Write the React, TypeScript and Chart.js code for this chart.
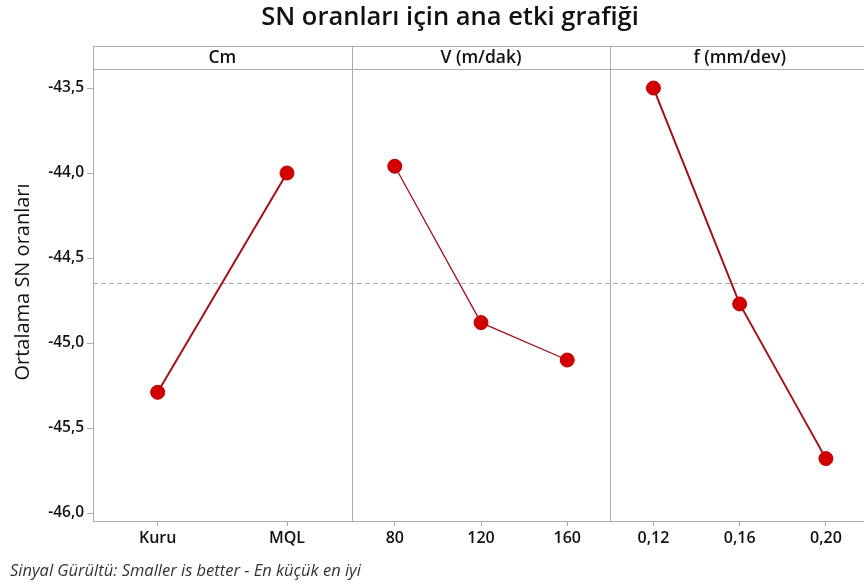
import React, { useEffect, useRef } from "react";
import { Chart, registerables } from "chart.js";

Chart.register(...registerables);

// ---- data ----
const chartTitle = "SN oranları için ana etki grafiği";
const yAxisTitle = "Ortalama SN oranları";
const footnote = "Sinyal Gürültü: Smaller is better - En küçük en iyi";

const factorNames = ["Cm", "V (m/dak)", "f (mm/dev)"];
const cmLevels = ["Kuru", "MQL"];
const cmMeans = [-45.29, -44.0];
const vLevels = ["80", "120", "160"];
const vMeans = [-43.96, -44.88, -45.1];
const fLevels = ["0,12", "0,16", "0,20"];
const fMeans = [-43.5, -44.77, -45.68];
const yTickValues = [-46.0, -45.5, -45.0, -44.5, -44.0, -43.5];

const factorLevels = [cmLevels, vLevels, fLevels];
const factorMeans = [cmMeans, vMeans, fMeans];

const FONT = "'Open Sans', 'Noto Sans', sans-serif";
const LINE = "#a3101c";
const DOT = "#d20000";
const DOT_BORDER = "#b80000";
const FRAME = "#ababab";

function pos(panel: number, i: number, n: number) {
  return panel + (2 * i + 1) / (2 * n);
}

const grandMean = cmMeans.reduce((a, b) => a + b, 0) / cmMeans.length;

export default function App() {
  const ref = useRef<HTMLCanvasElement | null>(null);

  useEffect(() => {
    if (!ref.current) return;
    const xTickPositions: number[] = [];
    const xTickLabels: string[] = [];
    factorLevels.forEach((lv, p) =>
      lv.forEach((l, i) => {
        xTickPositions.push(pos(p, i, lv.length));
        xTickLabels.push(l);
      })
    );

    const datasets = factorMeans.map((means, p) => ({
      label: factorNames[p],
      data: means.map((v, i) => ({ x: pos(p, i, means.length), y: v })),
      borderColor: LINE,
      borderWidth: p === 1 ? 1.3 : 2,
      pointRadius: 7,
      pointBackgroundColor: DOT,
      pointBorderColor: DOT_BORDER,
      pointBorderWidth: 1,
      showLine: true,
      fill: false,
      tension: 0,
    }));

    const decor = {
      id: "decor",
      beforeDatasetsDraw(chart: any) {
        const { ctx, chartArea: a, scales } = chart;
        const xs = scales.x;
        const ys = scales.y;
        const headerTop = 46;
        ctx.save();
        ctx.strokeStyle = "#a8a8a8";
        ctx.lineWidth = 1;
        ctx.setLineDash([5, 3]);
        const gy = Math.round(ys.getPixelForValue(grandMean)) + 0.5;
        ctx.beginPath();
        ctx.moveTo(a.left, gy);
        ctx.lineTo(a.right, gy);
        ctx.stroke();
        ctx.setLineDash([]);
        ctx.strokeStyle = FRAME;
        ctx.beginPath();
        ctx.moveTo(a.left, headerTop + 0.5);
        ctx.lineTo(a.right, headerTop + 0.5);
        ctx.moveTo(a.left, a.top + 0.5);
        ctx.lineTo(a.right, a.top + 0.5);
        ctx.moveTo(a.left + 0.5, headerTop);
        ctx.lineTo(a.left + 0.5, a.top);
        for (let p = 1; p < factorNames.length; p++) {
          const px = Math.round(xs.getPixelForValue(p)) + 0.5;
          ctx.moveTo(px, headerTop);
          ctx.lineTo(px, a.bottom);
        }
        ctx.stroke();
        ctx.fillStyle = "#111";
        ctx.font = `600 17.5px ${FONT}`;
        ctx.textAlign = "center";
        ctx.textBaseline = "middle";
        factorNames.forEach((n, p) => {
          ctx.fillText(n, xs.getPixelForValue(p + 0.5), (headerTop + a.top) / 2 + 1);
        });
        ctx.restore();
      },
      afterDraw(chart: any) {
        const { ctx } = chart;
        ctx.save();
        ctx.fillStyle = "#111";
        ctx.textAlign = "center";
        ctx.textBaseline = "alphabetic";
        ctx.font = `600 25.5px ${FONT}`;
        ctx.fillText(chartTitle, 450, 25);
        ctx.save();
        ctx.translate(23, 282);
        ctx.rotate(-Math.PI / 2);
        ctx.textBaseline = "middle";
        ctx.font = `20px ${FONT}`;
        ctx.fillText(yAxisTitle, 0, 0);
        ctx.restore();
        ctx.textAlign = "left";
        ctx.textBaseline = "alphabetic";
        ctx.font = `italic 16.5px ${FONT}`;
        ctx.fillStyle = "#333";
        ctx.fillText(footnote, 10, 576);
        ctx.restore();
      },
    };

    const chart = new Chart(ref.current, {
      type: "scatter",
      data: { datasets },
      options: {
        animation: false,
        responsive: false,
        devicePixelRatio: 1,
        layout: { padding: { top: 69, bottom: 21, left: 0, right: 0 } },
        plugins: {
          legend: { display: false },
          tooltip: { enabled: false },
          title: { display: false },
        },
        scales: {
          x: {
            type: "linear",
            min: 0,
            max: factorNames.length,
            afterBuildTicks(scale: any) {
              scale.ticks = xTickPositions.map((v) => ({ value: v }));
            },
            afterFit(scale: any) {
              scale.height = 44;
            },
            ticks: {
              autoSkip: false,
              maxRotation: 0,
              padding: 3,
              color: "#111",
              font: { family: FONT, size: 16, weight: "600" },
              callback: (_v: any, i: number) => xTickLabels[i],
            },
            grid: {
              drawOnChartArea: false,
              drawTicks: true,
              tickLength: 5,
              color: FRAME,
            },
            border: { display: true, color: FRAME },
          },
          y: {
            type: "linear",
            min: -46.047,
            max: -43.388,
            afterBuildTicks(scale: any) {
              scale.ticks = yTickValues.map((v) => ({ value: v }));
            },
            afterFit(scale: any) {
              scale.width = 93;
            },
            ticks: {
              padding: 3,
              color: "#111",
              font: { family: FONT, size: 15.5, weight: "600" },
              callback: (v: any) => Number(v).toFixed(1).replace(".", ","),
            },
            grid: {
              drawOnChartArea: false,
              drawTicks: true,
              tickLength: 6,
              color: FRAME,
            },
            border: { display: true, color: FRAME },
          },
        },
      },
      plugins: [decor],
    });
    return () => chart.destroy();
  }, []);

  return (
    <div
      style={{
        position: "fixed",
        left: 0,
        top: 0,
        width: 864,
        height: 586,
        overflow: "hidden",
        background: "#fff",
      }}
    >
      <canvas ref={ref} width={877} height={586} style={{ width: 877, height: 586, display: "block" }} />
    </div>
  );
}
